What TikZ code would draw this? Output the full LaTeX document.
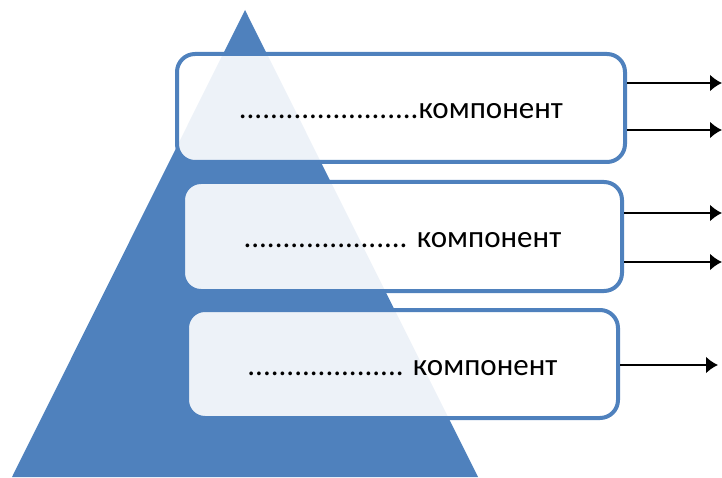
\documentclass[tikz,border=0pt]{standalone}
\usepackage{fontspec}
\setmainfont{Carlito}
\usetikzlibrary{arrows.meta}

\begin{document}
\begin{tikzpicture}[x=1pt, y=1pt]
  % Define colors
  \definecolor{pyrblue}{RGB}{79,129,189}

  % Styles
  \tikzset{
    levelbox/.style={rectangle, draw=pyrblue, line width=4pt, rounded corners=18pt,
      fill=white, fill opacity=0.9, text opacity=1, text height=22pt, text depth=0pt,
      font=\fontsize{31}{36}\selectfont},
    outarrow/.style={-{Latex[length=12pt, width=17pt]}, line width=2.2pt}
  }

  % Page frame
  \useasboundingbox (0,0) rectangle (722,477);

  % Pyramid
  \fill[pyrblue] (12,0) -- (245,467) -- (478,0) -- cycle;

  % Level boxes
  \node[levelbox, minimum width=448pt, minimum height=108pt] (top) at (401,369) {.......................компонент};
  \node[levelbox, minimum width=439pt, minimum height=109pt] (mid) at (402.5,240.5) {..................... компонент};
  \node[levelbox, minimum width=431pt, minimum height=108pt] (low) at (402.5,113) {.................... компонент};

  % Arrow ends
  \coordinate (topA) at (722,394);
  \coordinate (topB) at (722,347);
  \coordinate (midA) at (722,264);
  \coordinate (midB) at (722,215);
  \coordinate (lowA) at (718,112);

  % Arrows out of the boxes
  \draw[outarrow] (top.east |- topA) -- (topA);
  \draw[outarrow] (top.east |- topB) -- (topB);
  \draw[outarrow] (mid.east |- midA) -- (midA);
  \draw[outarrow] (mid.east |- midB) -- (midB);
  \draw[outarrow] (low.east |- lowA) -- (lowA);

\end{tikzpicture}
\end{document}
